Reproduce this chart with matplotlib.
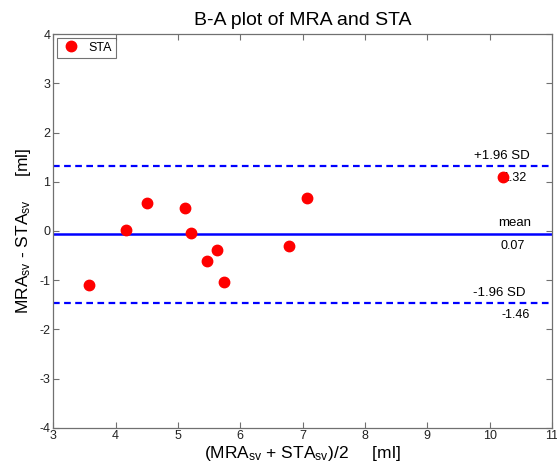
import matplotlib
matplotlib.use("Agg")
import matplotlib.pyplot as plt
import numpy as np

plt.rcParams['font.family'] = ['Liberation Sans', 'DejaVu Sans']
plt.rcParams['axes.unicode_minus'] = False
plt.rcParams['mathtext.default'] = 'regular'

# Data
avg_vals = [3.58, 4.17, 4.51, 5.12, 5.21, 5.63, 5.47, 5.74, 6.78, 7.07, 10.21]
diff_vals = [-1.10, 0.03, 0.56, 0.47, -0.05, -0.39, -0.60, -1.03, -0.30, 0.67, 1.09]
mean_diff = -0.07
upper_loa = 1.32
lower_loa = -1.46
series_name = "STA"
xticks = [3, 4, 5, 6, 7, 8, 9, 10, 11]
yticks = [-4, -3, -2, -1, 0, 1, 2, 3, 4]

fig = plt.figure(figsize=(5.57, 4.63), dpi=100)
ax = fig.add_axes([0.0957, 0.0762, 0.8953, 0.8498])

ax.plot(avg_vals, diff_vals, linestyle='none', marker='o', markersize=7.5,
        color='red', markeredgecolor='red', label=series_name, zorder=3)

ax.axhline(mean_diff, color='blue', lw=1.8, zorder=2)
ax.axhline(upper_loa, color='blue', lw=1.6, ls=(0, (3, 2)), zorder=2)
ax.axhline(lower_loa, color='blue', lw=1.6, ls=(0, (3, 2)), zorder=2)

tx = 10.64
ax.text(tx, upper_loa + 0.08, '+1.96 SD', ha='right', va='bottom', fontsize=9.5, zorder=1)
ax.text(tx - 0.05, upper_loa - 0.12, f'{upper_loa:.2f}', ha='right', va='top', fontsize=9, zorder=1)
ax.text(tx + 0.03, mean_diff + 0.12, 'mean', ha='right', va='bottom', fontsize=9.5)
ax.text(tx - 0.07, mean_diff - 0.12, f'{abs(mean_diff):.2f}', ha='right', va='top', fontsize=9)
ax.text(tx - 0.07, lower_loa + 0.08, '-1.96 SD', ha='right', va='bottom', fontsize=9.5)
ax.text(tx, lower_loa - 0.12, f'{lower_loa:.2f}', ha='right', va='top', fontsize=9)

ax.set_xlim(3, 11)
ax.set_ylim(-4, 4)
ax.set_xticks(xticks)
ax.set_yticks(yticks)
ax.tick_params(direction='in', length=4, top=True, right=True, labelsize=9,
               color='#707070', labelcolor='#222222', pad=2)
for s in ax.spines.values():
    s.set_color('#707070')
    s.set_linewidth(0.9)

ax.set_title('B-A plot of MRA and STA', fontsize=14, pad=7)
ax.set_xlabel(r'(MRA$_{sv}$ + STA$_{sv}$)/2     [ml]', fontsize=12.5, labelpad=1)
ax.set_ylabel(r'MRA$_{sv}$ - STA$_{sv}$     [ml]', fontsize=12.5, labelpad=5)

leg = ax.legend(loc='upper left', fontsize=9, frameon=True, fancybox=False,
                borderaxespad=0.3, handletextpad=0.6, borderpad=0.3,
                handlelength=1.6, numpoints=1)
leg.get_frame().set_edgecolor('#505050')
leg.get_frame().set_linewidth(0.8)

fig.savefig('out.png', dpi=100)
